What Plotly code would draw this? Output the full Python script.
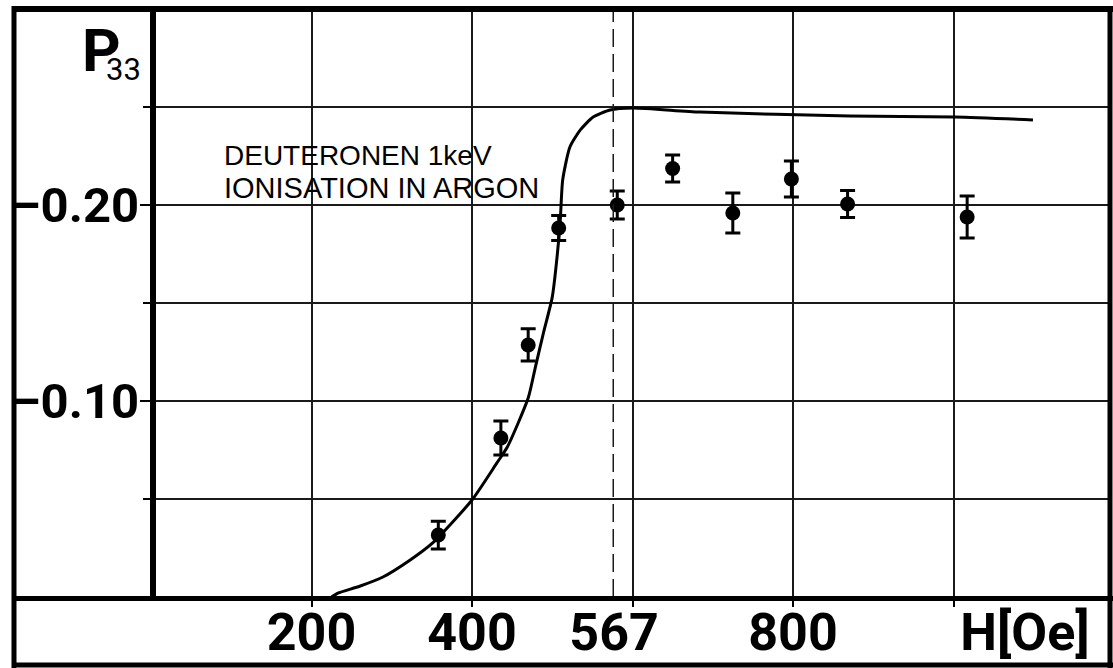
import plotly.graph_objects as go

# ---------------- data ----------------
H_points = [358, 436, 470, 508, 581, 650, 725, 798, 868, 1017]
P33_points = [-0.0316, -0.0811, -0.1286, -0.1883, -0.2000, -0.2186, -0.1959, -0.2133, -0.2005, -0.1939]
P33_err = [0.0071, 0.0087, 0.0082, 0.0064, 0.0071, 0.0069, 0.0102, 0.0092, 0.0069, 0.0107]

H_curve = [225, 233, 260, 289, 323, 351, 400, 431, 444, 470, 479, 489, 500, 506, 510,
           513, 522, 535, 551, 572, 601, 684, 871, 1002, 1099]
P33_curve = [0.0, -0.002, -0.0055, -0.0102, -0.0189, -0.0276, -0.0495, -0.0684, -0.0765,
             -0.1015, -0.1173, -0.1347, -0.1530, -0.1735, -0.1923, -0.2128, -0.2296,
             -0.2383, -0.2449, -0.2485, -0.2495, -0.2474, -0.2454, -0.2449, -0.2434]

H_resonance_line = 576          # dashed marker line, labelled "567"
x_grid = [200, 400, 600, 800, 1000]
x_label_pos = [200, 400, 577, 800, 1089]
x_label_text = ["200", "400", "567", "800", "H[Oe]"]
y_major = [-0.20, -0.10]
y_major_text = ["\u20130.20", "\u20130.10"]
y_minor = [-0.25, -0.15, -0.05]

X_RANGE = [0, 1195]
Y_RANGE = [0, -0.30]

# ---------------- layout geometry ----------------
W, HGT = 1113, 668
L, R, T, B = 151, 1110, 9, 597


def xp(px):
    return (px - L) / (R - L)


def yp(py):
    return (B - py) / (B - T)


BOLDF = "Roboto, Liberation Sans, sans-serif"
SANS = "Liberation Sans, Arial, sans-serif"
GRID = "#1a1a1a"

fig = go.Figure()

fig.add_trace(go.Scatter(
    x=H_curve, y=P33_curve, mode="lines",
    line=dict(color="black", width=3, shape="spline", smoothing=0.6),
    hoverinfo="skip", showlegend=False))

fig.add_trace(go.Scatter(
    x=H_points, y=P33_points, mode="markers",
    marker=dict(color="black", size=15),
    error_y=dict(type="data", array=P33_err, visible=True,
                 color="black", thickness=3, width=7.5),
    showlegend=False))

# invisible trace to anchor label axis
fig.add_trace(go.Scatter(x=[X_RANGE[0]], y=[0], xaxis="x2", mode="markers",
                         marker=dict(opacity=0), hoverinfo="skip", showlegend=False))

fig.update_layout(
    width=W, height=HGT,
    margin=dict(l=L, r=W - R, t=T, b=HGT - B, autoexpand=False),
    paper_bgcolor="white", plot_bgcolor="white",
    xaxis=dict(range=X_RANGE, tickmode="array", tickvals=x_grid, automargin=False,
               showticklabels=False, ticks="outside", ticklen=9, tickwidth=2,
               tickcolor="black", showgrid=True, gridcolor=GRID, gridwidth=1.5,
               zeroline=False, showline=False),
    xaxis2=dict(range=X_RANGE, overlaying="x", anchor="y", side="bottom", automargin=False,
                tickmode="array", tickvals=x_label_pos, ticktext=x_label_text,
                ticks="", showgrid=False, zeroline=False, showline=False,
                tickfont=dict(family=BOLDF, size=52, color="black", weight=700),
                ticklabelstandoff=0),
    yaxis=dict(range=Y_RANGE, tickmode="array", tickvals=y_major, ticktext=y_major_text,
               automargin=False,
               ticks="outside", ticklen=10, tickwidth=2, tickcolor="black",
               showgrid=True, gridcolor=GRID, gridwidth=1.5, zeroline=False,
               showline=False, ticklabelstandoff=-9,
               tickfont=dict(family=BOLDF, size=49, color="black", weight=700),
               minor=dict(tickmode="array", tickvals=y_minor, ticks="outside",
                          ticklen=7, tickwidth=2, tickcolor="black", showgrid=True,
                          gridcolor=GRID, gridwidth=1.5)),
    showlegend=False,
)

# dashed resonance line
fig.add_shape(type="line", xref="x", yref="paper", x0=H_resonance_line, x1=H_resonance_line,
              y0=0, y1=1, line=dict(color=GRID, width=1.5, dash="18px,7px"))

# frame & thick axes
frame = dict(color="black", width=6)
fig.add_shape(type="line", xref="paper", yref="paper", x0=xp(12), x1=xp(1113), y0=yp(9), y1=yp(9), line=frame)
fig.add_shape(type="line", xref="paper", yref="paper", x0=xp(14), x1=xp(14), y0=yp(6), y1=yp(668), line=dict(color="black", width=5))
fig.add_shape(type="line", xref="paper", yref="paper", x0=xp(1110), x1=xp(1110), y0=yp(6), y1=yp(668), line=dict(color="black", width=5))
fig.add_shape(type="line", xref="paper", yref="paper", x0=xp(12), x1=xp(1113), y0=yp(665), y1=yp(665), line=dict(color="black", width=5))
fig.add_shape(type="line", xref="paper", yref="paper", x0=xp(153), x1=xp(153), y0=yp(9), y1=yp(598), line=frame)
fig.add_shape(type="line", xref="paper", yref="paper", x0=xp(12), x1=xp(1113), y0=yp(598.5), y1=yp(598.5), line=dict(color="black", width=5))

# texts
fig.add_annotation(xref="paper", yref="paper", x=xp(80), y=yp(50), xanchor="left", yanchor="middle",
                   text="P", showarrow=False,
                   font=dict(family=BOLDF, size=60, color="black", weight=700))
fig.add_annotation(xref="paper", yref="paper", x=xp(104), y=yp(70), xanchor="left", yanchor="middle",
                   text="33", showarrow=False,
                   font=dict(family=BOLDF, size=31, color="black"))
fig.add_annotation(xref="paper", yref="paper", x=xp(222), y=yp(155), xanchor="left", yanchor="middle",
                   text="DEUTERONEN 1keV", showarrow=False, font=dict(family=SANS, size=28, color="black"))
fig.add_annotation(xref="paper", yref="paper", x=xp(222), y=yp(188), xanchor="left", yanchor="middle",
                   text="IONISATION IN ARGON", showarrow=False, font=dict(family=SANS, size=29, color="black"))

fig.write_html("out.html", config={"displayModeBar": False},
               post_script="document.body.style.margin='0px';document.body.style.padding='0px';")
